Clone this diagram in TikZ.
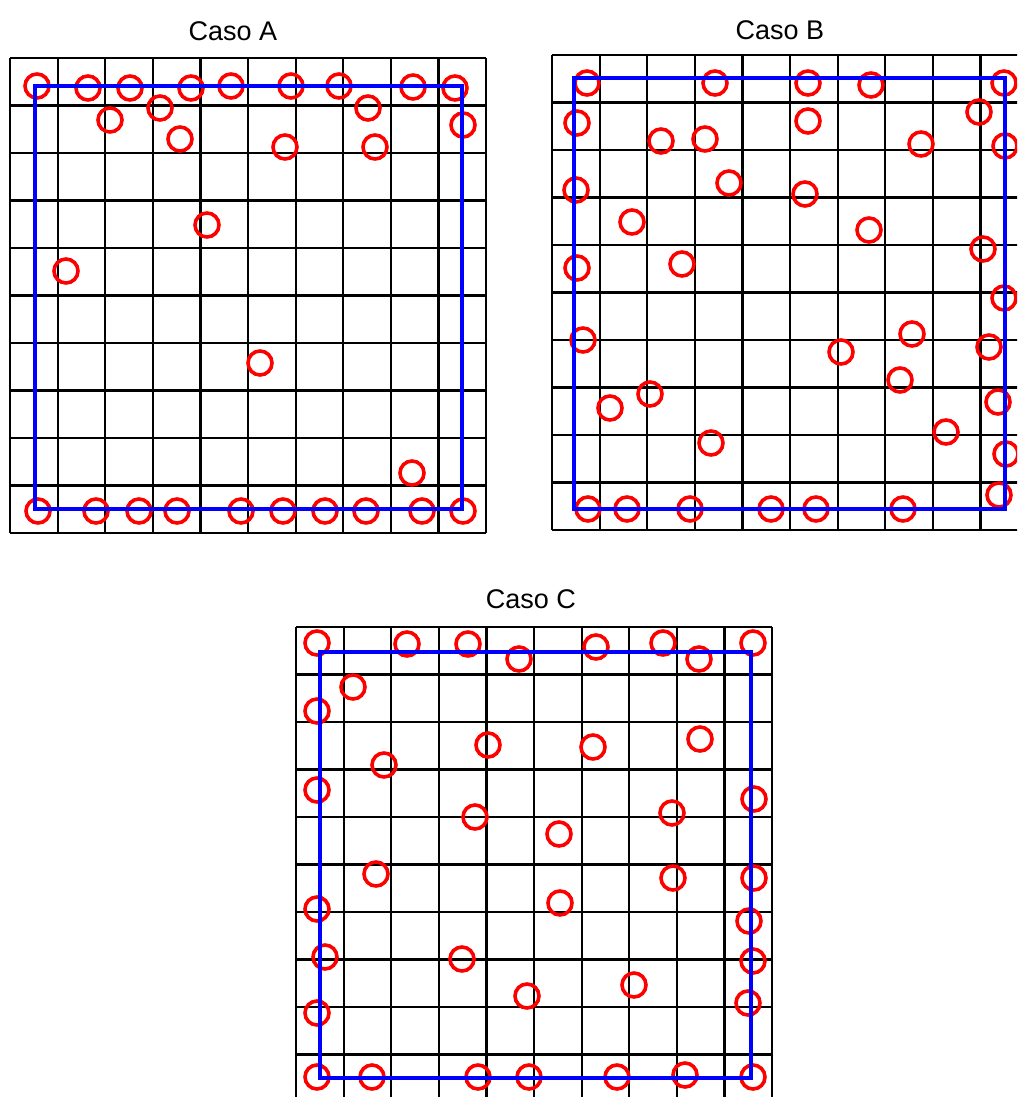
\documentclass[tikz,border=0pt]{standalone}
\usepackage{fontspec}
\setmainfont{Liberation Sans}
\usepackage{tikz}
\definecolor{Route}{HTML}{0000FF}
\definecolor{Sensor}{HTML}{FF0000}

\begin{document}
\begin{tikzpicture}[x=1pt,y=-1pt,
    cell/.style={draw=black,line width=2.2pt},
    sensor/.style={draw=Sensor,line width=3.6pt},
    route/.style={draw=Route,line width=4.4pt},
    caption/.style={font=\fontsize{27}{31}\selectfont,anchor=base,inner sep=0pt}
  ]
    \useasboundingbox (0,0) rectangle (1017,1097);
    \clip (0,0) rectangle (1017,1097);
    % grids, 10 x 10 cells each
    \foreach \gx/\gy in {10/58,552/55,296/627}{
      \foreach \i in {0,...,10}{
        \draw[cell] (\gx+47.6*\i,\gy) -- (\gx+47.6*\i,\gy+475);
        \draw[cell] (\gx,\gy+47.5*\i) -- (\gx+476,\gy+47.5*\i);
      }
    }
    \node[caption] (titleA) at (233,41) {Caso A};
    \node[caption] (titleB) at (780,40) {Caso B};
    \node[caption] (titleC) at (531,608) {Caso C};
    % Caso A
    \foreach \x/\y in {37/86,88/88,130/88,191/88,231/86,291/86,339/86,413/87,455/88,
      110/120,160/108,180/139,207/225,66/271,368/108,463/125,285/147,375/147,
      260/363,412/473,38/511,96/511,139/511,177/511,241/511,283/511,325/511,
      366/511,422/511,463/511}
      \draw[sensor] (\x,\y) circle[radius=12pt];
    % Caso B
    \foreach \x/\y in {587/83,715/83,808/83,871/85,1004/83,577/123,661/141,705/139,
      576/190,729/183,632/222,577/268,682/264,808/121,979/112,921/144,1005/146,
      805/194,869/230,983/249,1004/298,583/340,912/334,841/352,989/347,900/380,
      610/408,650/394,998/402,711/443,946/432,1006/454,999/495,588/509,627/509,
      690/509,771/509,816/509,903/509}
      \draw[sensor] (\x,\y) circle[radius=12pt];
    % Caso C
    \foreach \x/\y in {317/643,407/644,468/644,519/659,596/647,663/643,699/659,753/643,
      353/687,317/711,488/745,384/765,317/790,475/817,593/747,700/739,754/799,
      672/813,559/834,376/874,317/909,560/903,673/878,754/878,749/921,325/957,
      462/959,753/961,527/996,634/985,748/1003,317/1013,317/1077,372/1077,
      478/1077,529/1077,617/1077,685/1075,753/1077}
      \draw[sensor] (\x,\y) circle[radius=12pt];
    % routes
    \draw[route] (35,86) rectangle (462,509);
    \draw[route] (574,78) rectangle (1005,509);
    \draw[route] (320,652) rectangle (751,1078);
  \end{tikzpicture}
\end{document}
